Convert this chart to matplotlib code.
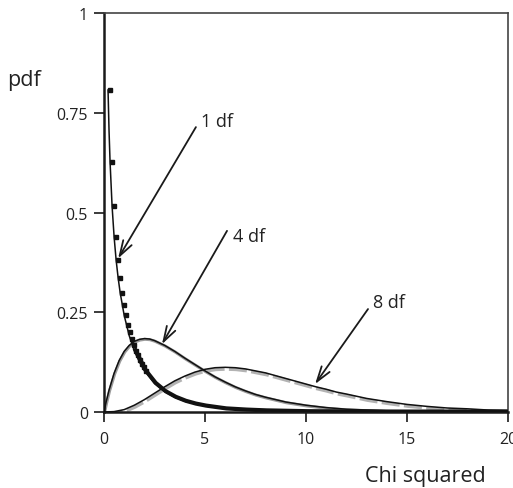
import matplotlib
matplotlib.use("Agg")
import matplotlib.pyplot as plt
import matplotlib.transforms as mtrans

plt.rcParams['font.family'] = ['Open Sans', 'DejaVu Sans']

# ---- data ----
x1_curve = [0.2, 0.25, 0.3, 0.4, 0.5, 0.6, 0.7, 0.8, 1.0, 1.25, 1.5, 1.75, 2, 2.5, 3, 3.5, 4, 5, 6, 7, 8, 10, 12, 15, 20]
y1_curve = [0.807, 0.704, 0.627, 0.516, 0.439, 0.381, 0.336, 0.299, 0.242, 0.191, 0.154, 0.126, 0.104, 0.072,
            0.051, 0.037, 0.027, 0.015, 0.008, 0.005, 0.003, 0.001, 0.0003, 0.0001, 0.0]

x1_marks = [0.2, 0.3, 0.4, 0.5, 0.6, 0.7, 0.8, 0.9, 1.0, 1.1, 1.2, 1.3, 1.4, 1.5, 1.6, 1.7, 1.8, 1.9, 2.0]
y1_marks = [0.807, 0.627, 0.516, 0.439, 0.381, 0.336, 0.299, 0.268, 0.242, 0.219, 0.200, 0.183, 0.167, 0.154,
            0.142, 0.131, 0.121, 0.112, 0.104]

x1_band = [1.5, 2, 2.5, 3, 3.5, 4, 4.5, 5, 6, 7, 8, 10, 12, 14, 16, 18, 20]
y1_band = [0.154, 0.104, 0.072, 0.051, 0.037, 0.027, 0.020, 0.015, 0.008, 0.005, 0.003, 0.001, 0.0003, 0.0001,
           0.0, 0.0, 0.0]

x4 = [0, 0.1, 0.25, 0.5, 0.75, 1, 1.25, 1.5, 1.75, 2, 2.25, 2.5, 3, 3.5, 4, 4.5, 5, 5.5, 6, 6.5, 7, 7.5, 8,
      9, 10, 11, 12, 14, 16, 18, 20]
y4 = [0, 0.024, 0.055, 0.097, 0.129, 0.152, 0.167, 0.177, 0.182, 0.184, 0.183, 0.179, 0.167, 0.152, 0.135,
      0.119, 0.103, 0.088, 0.075, 0.063, 0.053, 0.044, 0.037, 0.025, 0.017, 0.011, 0.007, 0.003, 0.001,
      0.0006, 0.0002]

x8 = [0, 0.5, 1, 1.5, 2, 2.5, 3, 3.5, 4, 4.5, 5, 5.5, 6, 6.5, 7, 7.5, 8, 8.5, 9, 9.5, 10, 10.5, 11, 11.5,
      12, 13, 14, 15, 16, 17, 18, 19, 20]
y8 = [0, 0.001, 0.006, 0.017, 0.031, 0.047, 0.063, 0.078, 0.090, 0.100, 0.107, 0.111, 0.112, 0.111, 0.108,
      0.103, 0.098, 0.091, 0.084, 0.077, 0.070, 0.063, 0.057, 0.050, 0.045, 0.034, 0.026, 0.019, 0.014,
      0.010, 0.008, 0.005, 0.004]

labels = ['1 df', '4 df', '8 df']
label_pos = [(4.8, 0.73), (6.4, 0.441), (13.3, 0.276)]
arrow_tail = [(4.55, 0.714), (6.09, 0.454), (13.07, 0.258)]
arrow_tip = [(0.7, 0.385), (2.87, 0.170), (10.45, 0.070)]

x_ticks = [0, 5, 10, 15, 20]
y_ticks = [0, 0.25, 0.5, 0.75, 1]
y_ticklabels = ['0', '0.25', '0.5', '0.75', '1']

# ---- figure ----
fig = plt.figure(figsize=(5.13, 4.89), dpi=100)
ax = fig.add_axes([104 / 513, 1 - 413 / 489, 404 / 513, 399 / 489])
ax.set_xlim(0, 20)
ax.set_ylim(0, 1)

def shifted(dx, dy):
    return ax.transData + mtrans.ScaledTranslation(dx / 72, dy / 72, fig.dpi_scale_trans)

# histogram-like bands
ax.plot(x8, y8, color='#b3b3b3', lw=2.6, ls=(0, (5, 1.2)), solid_capstyle='butt',
        transform=shifted(0.6, -1.2), zorder=1)
ax.plot(x4, y4, color='#9a9a9a', lw=2.2, transform=shifted(0.4, -0.5), zorder=1)
ax.plot(x1_band, y1_band, color='#111111', lw=3.0, transform=shifted(0.8, 0.3), zorder=2)
ax.plot(x1_marks, y1_marks, ls='none', marker='s', ms=2.6, color='#111111',
        transform=shifted(1.2, 0.0), zorder=2)

# curves
ax.plot(x1_curve, y1_curve, color='#111111', lw=1.1, zorder=3)
ax.plot(x4, y4, color='#111111', lw=1.1, zorder=3)
ax.plot(x8, y8, color='#111111', lw=1.1, zorder=3)

# annotations
for lab, pos, tail, tip in zip(labels, label_pos, arrow_tail, arrow_tip):
    ax.annotate('', xy=tip, xytext=tail,
                arrowprops=dict(arrowstyle='->,head_length=1.1,head_width=0.35', lw=1.3,
                                color='#1a1a1a', shrinkA=0, shrinkB=0, mutation_scale=10),
                zorder=4)
    ax.text(pos[0], pos[1], lab, ha='left', va='center', fontsize=13, color='#222222')

# spines & ticks
for s in ['left', 'bottom']:
    ax.spines[s].set_linewidth(1.8)
    ax.spines[s].set_color('#1a1a1a')
for s in ['top', 'right']:
    ax.spines[s].set_linewidth(1.2)
    ax.spines[s].set_color('#444444')

ax.set_xticks(x_ticks)
ax.set_xticklabels([str(v) for v in x_ticks])
ax.set_yticks(y_ticks)
ax.set_yticklabels(y_ticklabels)
ax.tick_params(direction='out', length=7.5, width=1.2, color='#1a1a1a',
               labelsize=11.5, labelcolor='#222222')
ax.tick_params(axis='y', pad=4)
ax.tick_params(axis='x', pad=6)

fig.text(7 / 513, 1 - 81 / 489, 'pdf', ha='left', va='center', fontsize=15.5, color='#222222')
fig.text(486 / 513, 1 - 477 / 489, 'Chi squared', ha='right', va='center', fontsize=15.5, color='#222222')

fig.savefig('out.png', dpi=100)
